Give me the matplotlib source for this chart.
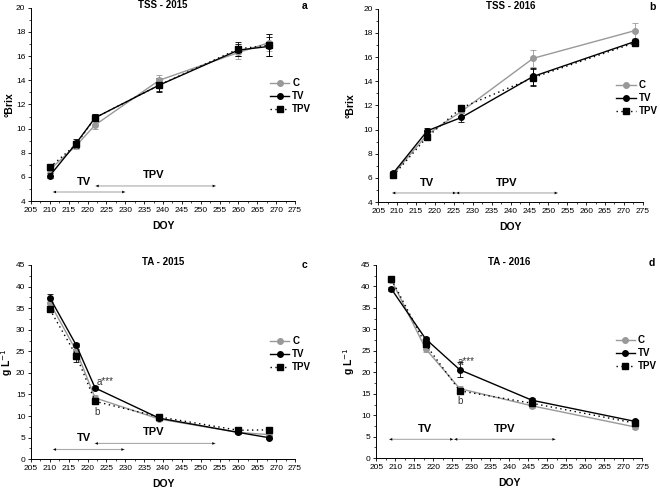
import matplotlib
matplotlib.use("Agg")
import matplotlib.pyplot as plt
from matplotlib.ticker import MultipleLocator
from matplotlib.lines import Line2D

plt.rcParams['font.family'] = ['Liberation Sans', 'DejaVu Sans']

# --- data ---
doy_2015 = [210, 217, 222, 239, 260, 268]
doy_2016 = [209, 218, 227, 246, 273]

tss15_c = [6.6, 8.6, 10.3, 14.0, 16.3, 17.1]
tss15_tv = [6.1, 8.8, 10.9, 13.6, 16.5, 16.8]
tss15_tpv = [6.8, 8.7, 10.9, 13.6, 16.6, 16.9]
tss15_c_err = [0.3, 0.3, 0.3, 0.4, 0.5, 0.7]
tss15_tv_err = [0.2, 0.3, 0.3, 0.5, 0.5, 0.8]
tss15_tpv_err = [0.2, 0.3, 0.3, 0.6, 0.6, 0.9]

tss16_c = [6.3, 9.6, 11.5, 15.9, 18.2]
tss16_tv = [6.4, 9.9, 11.0, 14.4, 17.3]
tss16_tpv = [6.2, 9.4, 11.8, 14.3, 17.2]
tss16_c_err = [0.2, 0.3, 0.4, 0.7, 0.6]
tss16_tv_err = [0.2, 0.2, 0.4, 0.7, 0.2]
tss16_tpv_err = [0.2, 0.3, 0.2, 0.7, 0.2]

ta15_c = [36.2, 25.1, 14.2, 9.3, 6.2, 5.7]
ta15_tv = [37.4, 26.4, 16.5, 9.5, 6.2, 5.0]
ta15_tpv = [34.7, 24.0, 13.4, 9.8, 6.7, 6.8]
ta15_c_err = [0.8, 1.5, 0.6, 0.5, 0.4, 0.5]
ta15_tv_err = [0.9, 0.5, 0.5, 0.5, 0.3, 0.4]
ta15_tpv_err = [0.5, 1.5, 0.5, 0.5, 0.4, 0.4]

ta16_c = [41.5, 25.5, 16.2, 12.2, 7.3]
ta16_tv = [39.4, 27.8, 20.6, 13.5, 8.6]
ta16_tpv = [41.7, 26.5, 15.7, 12.8, 8.2]
ta16_c_err = [0.5, 0.8, 0.6, 0.5, 0.6]
ta16_tv_err = [0.5, 0.5, 1.7, 0.5, 0.4]
ta16_tpv_err = [0.6, 0.5, 0.5, 0.5, 0.4]

# phase arrows: (start, end, y) for TV and TPV
arrows = {
    'a': [(210.9, 229.9, 4.75), (222.2, 253.9, 5.25)],
    'b': [(208.8, 225.5, 4.75), (225.7, 252.4, 4.75)],
    'c': [(210.9, 229.7, 2.25), (222.0, 253.8, 3.65)],
    'd': [(208.5, 225.2, 4.4), (225.6, 252.1, 4.4)],
}
arrow_labels = {
    'a': [(218.9, 5.2), (237.4, 5.75)],
    'b': [(217.8, 5.15), (238.9, 5.15)],
    'c': [(218.9, 3.7), (237.4, 5.1)],
    'd': [(217.8, 5.6), (238.8, 5.6)],
}

fig = plt.figure(figsize=(6.6, 4.88), dpi=100)

panels = [
    ('a', 'TSS - 2015', '°Brix', doy_2015, (tss15_c, tss15_tv, tss15_tpv),
     (tss15_c_err, tss15_tv_err, tss15_tpv_err), [0.047, 0.588, 0.400, 0.396], (4, 20), 2, 1),
    ('b', 'TSS - 2016', '°Brix', doy_2016, (tss16_c, tss16_tv, tss16_tpv),
     (tss16_c_err, tss16_tv_err, tss16_tpv_err), [0.573, 0.586, 0.401, 0.396], (4, 20), 2, 1),
    ('c', 'TA - 2015', 'g L$^{-1}$', doy_2015, (ta15_c, ta15_tv, ta15_tpv),
     (ta15_c_err, ta15_tv_err, ta15_tpv_err), [0.047, 0.059, 0.400, 0.398], (0, 45), 5, 2.5),
    ('d', 'TA - 2016', 'g L$^{-1}$', doy_2016, (ta16_c, ta16_tv, ta16_tpv),
     (ta16_c_err, ta16_tv_err, ta16_tpv_err), [0.570, 0.061, 0.403, 0.396], (0, 45), 5, 2.5),
]

leg_pos = {'a': (0.905, 0.635), 'b': (0.90, 0.63), 'c': (0.905, 0.632), 'd': (0.90, 0.637)}
ylab_x = {'a': -0.062, 'b': -0.087, 'c': -0.06, 'd': -0.071}
letter_y = {'a': 1.01, 'b': 1.01, 'c': 1.0, 'd': 1.01}

for letter, title, ylabel, x, ys, errs, rect, ylim, ymaj, ymin in panels:
    ax = fig.add_axes(rect)
    c, tv, tpv = ys
    ce, tve, tpve = errs
    ax.errorbar(x, c, yerr=ce, color='#999999', marker='o', ms=4, lw=1.0,
                capsize=2.5, elinewidth=0.6, capthick=0.6)
    ax.errorbar(x, tv, yerr=tve, color='black', marker='o', ms=4, lw=1.0,
                capsize=2.5, elinewidth=0.6, capthick=0.6)
    ax.errorbar(x, tpv, yerr=tpve, color='black', marker='s', ms=3.8, lw=1.0,
                ls=(0, (1, 2.5)), capsize=2.5, elinewidth=0.6, capthick=0.6)

    # phase arrows
    for (x0, x1, ya) in arrows[letter]:
        ax.annotate('', xy=(x1, ya), xytext=(x0, ya),
                    arrowprops=dict(arrowstyle='-', color='#aaaaaa', lw=0.8,
                                    shrinkA=0, shrinkB=0))
        ax.annotate('', xy=(x1, ya), xytext=(x0, ya),
                    arrowprops=dict(arrowstyle='<|-|>', color='black', lw=0,
                                    mutation_scale=5, shrinkA=0, shrinkB=0))
    for lab, (lx, ly) in zip(['TV', 'TPV'], arrow_labels[letter]):
        ax.text(lx, ly, lab, ha='center', va='bottom', fontsize=8, fontweight='bold')

    ax.set_xlim(205, 275)
    ax.set_ylim(*ylim)
    ax.xaxis.set_major_locator(MultipleLocator(5))
    ax.xaxis.set_minor_locator(MultipleLocator(2.5))
    ax.yaxis.set_major_locator(MultipleLocator(ymaj))
    ax.yaxis.set_minor_locator(MultipleLocator(ymin))
    ax.tick_params(labelsize=6, length=2.5, width=0.6, pad=1.5)
    ax.tick_params(which='minor', length=1.5, width=0.5)
    for s in ['top', 'right']:
        ax.spines[s].set_visible(False)
    for s in ['left', 'bottom']:
        ax.spines[s].set_linewidth(0.7)

    ax.set_xlabel('DOY', fontsize=7.5, fontweight='bold', labelpad=5)
    ax.set_ylabel(ylabel, fontsize=7.5, fontweight='bold')
    ax.yaxis.set_label_coords(ylab_x[letter], 0.5)
    ax.text(0.5, 1.015, title, transform=ax.transAxes, ha='center', va='center',
            fontsize=7, fontweight='bold')
    ax.text(1.037, letter_y[letter], letter, transform=ax.transAxes, ha='center',
            va='center', fontsize=7.5, fontweight='bold')

    handles = [
        Line2D([], [], color='#999999', marker='o', ms=4, lw=1.0),
        Line2D([], [], color='black', marker='o', ms=4, lw=1.0),
        Line2D([], [], color='black', marker='s', ms=3.8, lw=1.0, ls=(0, (1, 2.5))),
    ]
    ax.legend(handles, ['C', 'TV', 'TPV'], loc='upper left',
              bbox_to_anchor=leg_pos[letter], frameon=False,
              handlelength=2.0, handletextpad=0.3, labelspacing=0.3,
              prop={'weight': 'bold', 'size': 7}, borderaxespad=0, borderpad=0)

    if letter == 'c':
        ax.text(222.3, 16.8, 'a***', fontsize=7, color='#333333', ha='left', va='bottom')
        ax.text(222.5, 12.0, 'b', fontsize=7, color='#333333', ha='center', va='top')
    if letter == 'd':
        ax.text(226.3, 21.3, 'a***', fontsize=7, color='#333333', ha='left', va='bottom')
        ax.text(227, 14.6, 'b', fontsize=7, color='#333333', ha='center', va='top')

fig.savefig('out.png', dpi=100)
